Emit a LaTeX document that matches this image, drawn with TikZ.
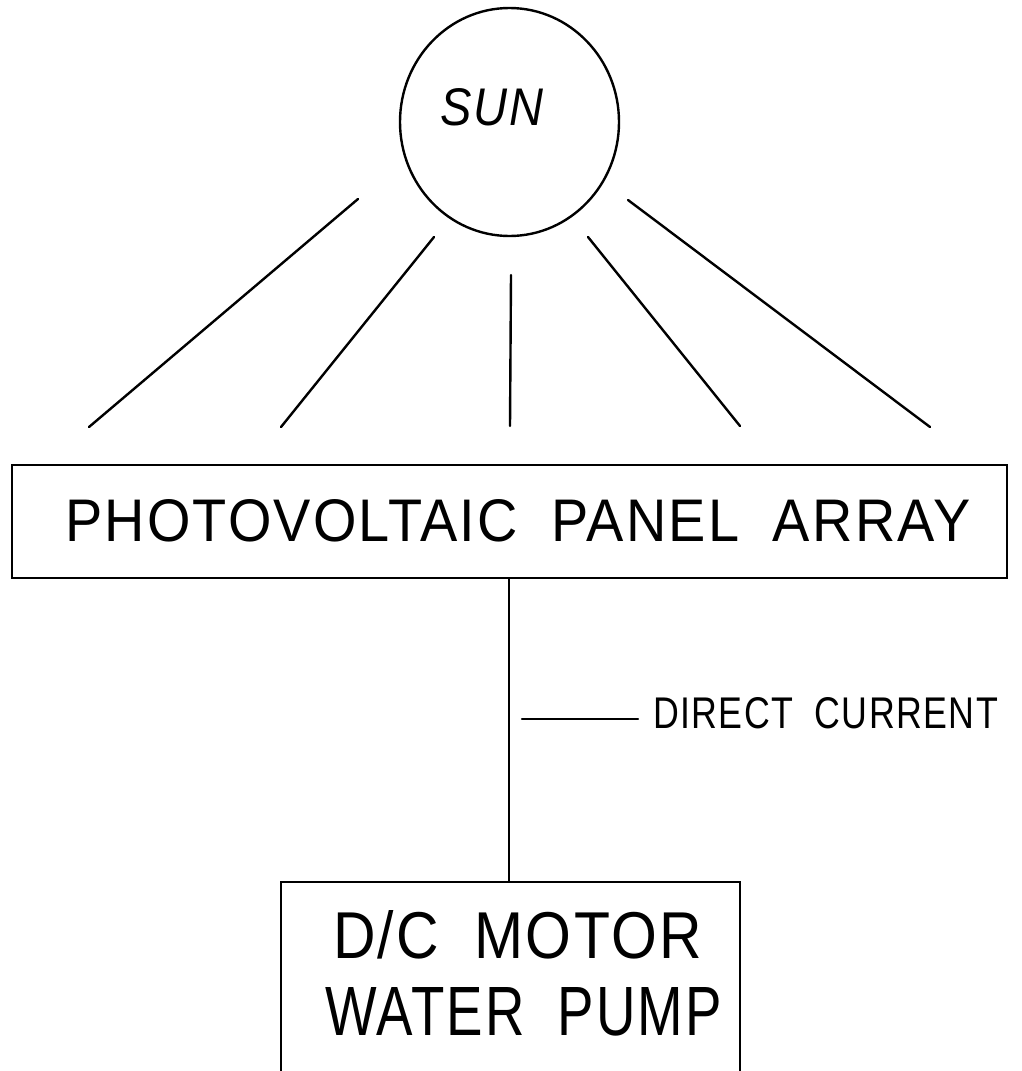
\documentclass[tikz,border=0pt]{standalone}
\usepackage{fontspec}
\usepackage{graphicx}
\setmainfont{Liberation Sans}
\newfontfamily\drawfont{Liberation Sans}[LetterSpace=4]
\usetikzlibrary{shapes.geometric}
\tikzset{
  ln/.style={line width=2.4pt, line cap=round, black},
  txt/.style={inner sep=0pt, outer sep=0pt, anchor=base west},
  boxnode/.style={draw, line width=2.4pt, rectangle, inner sep=0pt}
}
\newcommand{\fitw}[3]{\resizebox{#1pt}{#2pt}{\drawfont #3}}
\newcommand{\wsp}{\hspace{0.6em}}
\begin{document}
\begin{tikzpicture}[x=1pt,y=-1pt]
\useasboundingbox (0,0) rectangle (1021,1071);
% sun
\node[ellipse, draw, line width=2.4pt, minimum width=219pt, minimum height=228pt, inner sep=0pt] (sun) at (509.5,122) {};
\node[txt] (sunlabel) at (440,125) {\fitw{103}{37}{\itshape SUN}};
% rays
\coordinate (r1a) at (358,199); \coordinate (r1b) at (89,427);
\coordinate (r2a) at (434,237); \coordinate (r2b) at (281,427);
\coordinate (r3a) at (511,275); \coordinate (r3b) at (510,426);
\coordinate (r4a) at (588,237); \coordinate (r4b) at (740,426);
\coordinate (r5a) at (628,200); \coordinate (r5b) at (930,427);
\foreach \i in {1,...,5} {\draw[ln] (r\i a) -- (r\i b);}
% panel
\node[boxnode, minimum width=995pt, minimum height=113pt] (panel) at (509.5,521.5) {};
\node[txt] (paneltext) at (65,541) {\fitw{905}{42}{PHOTOVOLTAIC\wsp PANEL\wsp ARRAY}};
% motor box (bottom edge outside picture)
\node[rectangle, inner sep=0pt, minimum width=459pt, minimum height=189pt] (motor) at (510.5,976.5) {};
\draw[ln, line cap=butt] (motor.south west) -- (motor.north west) -- (motor.north east) -- (motor.south east);
\node[txt] (m1) at (333,958) {\fitw{369}{48}{D/C\wsp MOTOR}};
\node[txt] (m2) at (325,1035) {\fitw{397}{48}{WATER\wsp PUMP}};
% connector
\draw[ln, line cap=butt] (panel.south -| 509,0) -- (motor.north -| 509,0);
% direct current label
\coordinate (dcA) at (522,719);
\coordinate (dcB) at (638,719);
\draw[ln] (dcA) -- (dcB);
\node[txt] (dc) at (653,728) {\fitw{345}{31}{DIRECT\wsp CURRENT}};
\end{tikzpicture}
\end{document}
